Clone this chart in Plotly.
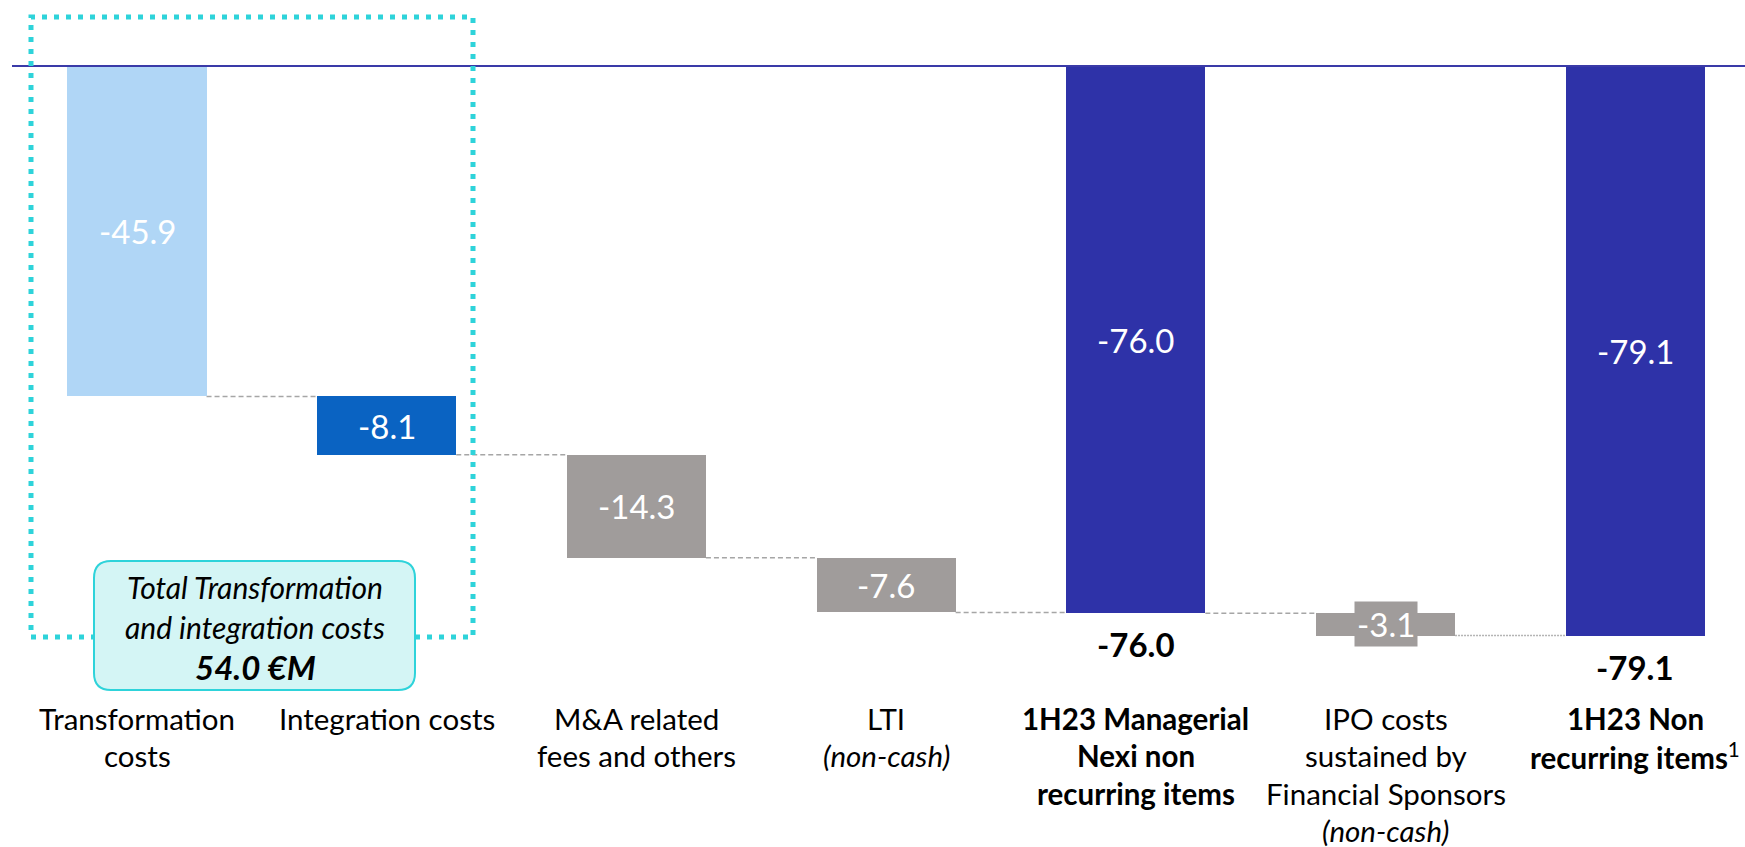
import plotly.graph_objects as go

# ---------------- data ----------------
categories = ["Transformation costs", "Integration costs", "M&A related fees and others",
              "LTI (non-cash)", "1H23 Managerial Nexi non recurring items",
              "IPO costs sustained by Financial Sponsors (non-cash)", "1H23 Non recurring items"]
values = [-45.9, -8.1, -14.3, -7.6, -76.0, -3.1, -79.1]
kinds = ["delta", "delta", "delta", "delta", "total", "delta", "total"]
bar_colors = ["#b0d6f6", "#0a63c2", "#a09c9b", "#a09c9b", "#2e32a8", "#a09c9b", "#2e32a8"]
label_lines = [
    ["Transformation", "costs"],
    ["Integration costs"],
    ["M&amp;A related", "fees and others"],
    ["LTI", "<i>(non-cash)</i>"],
    ["<b>1H23 Managerial</b>", "<b>Nexi non</b>", "<b>recurring items</b>"],
    ["IPO costs", "sustained by", "Financial Sponsors", "<i>(non-cash)</i>"],
    ["<b>1H23 Non</b>", "<b>recurring items</b><sup>1</sup>"],
]
callout_lines = ["<i>Total Transformation</i>", "<i>and integration costs</i>", "<b><i>54.0 €M</i></b>"]

# ---------------- layout geometry ----------------
W, H = 1745, 847
PX_PER_CAT = 249.7
CAT0_PX = 137
ZERO_PY = 66
PX_PER_UNIT = 7.2
X0 = -CAT0_PX / PX_PER_CAT
X1 = X0 + W / PX_PER_CAT
Y1 = ZERO_PY / PX_PER_UNIT
Y0 = Y1 - H / PX_PER_UNIT
BAR_W = 0.557
FONT = "Lato, 'Open Sans', sans-serif"

def px(xp):
    return xp / W

def py(yp):
    return 1 - yp / H

# bases from running total
bases, ends = [], []
running = 0.0
for v, k in zip(values, kinds):
    if k == "total":
        bases.append(0.0)
        running = v
    else:
        bases.append(running)
        running += v
    ends.append(running)

idx = list(range(len(values)))
fig = go.Figure()
fig.add_trace(go.Bar(x=idx, y=values, base=bases, width=BAR_W,
                     marker=dict(color=bar_colors, line=dict(width=0)),
                     hoverinfo="skip"))

# connectors
for i in range(len(values) - 1):
    lvl = ends[i]
    fine = (i == len(values) - 2)
    fig.add_shape(type="line", xref="x", yref="y",
                  x0=i + BAR_W / 2, x1=i + 1 - BAR_W / 2, y0=lvl, y1=lvl,
                  line=dict(color="#b4b4b4" if fine else "#a6a6a6", width=1.5,
                            dash="2px,1px" if fine else "5px,3px"),
                  layer="below")

# baseline
fig.add_shape(type="line", xref="paper", yref="y", x0=px(12), x1=1, y0=0, y1=0,
              line=dict(color="#3a3aa8", width=2))

# dotted bracket rectangle
fig.add_shape(type="rect", xref="paper", yref="paper",
              x0=px(31), x1=px(473), y0=py(637), y1=py(17),
              line=dict(color="#2ed3da", width=5, dash="5px,7px"), layer="above")

# rounded callout
def rrect(x0, y0, x1, y1, r):
    pts = [("M", x0 + r, y0), ("L", x1 - r, y0), ("Q", x1, y0, x1, y0 + r),
           ("L", x1, y1 - r), ("Q", x1, y1, x1 - r, y1), ("L", x0 + r, y1),
           ("Q", x0, y1, x0, y1 - r), ("L", x0, y0 + r), ("Q", x0, y0, x0 + r, y0)]
    s = ""
    for p in pts:
        cmd = p[0]
        coords = p[1:]
        pairs = [f"{px(coords[j]):.5f},{py(coords[j+1]):.5f}" for j in range(0, len(coords), 2)]
        s += cmd + " " + " ".join(pairs) + " "
    return s + "Z"

fig.add_shape(type="path", xref="paper", yref="paper", path=rrect(94, 561, 415, 690, 17),
              fillcolor="#d4f5f5", line=dict(color="#2ed3da", width=2), layer="above")
callout_sizes = [30, 30, 33]
for j, t in enumerate(callout_lines):
    fig.add_annotation(xref="paper", yref="paper", x=px(255), y=py(587 + 40 * j),
                       text=t, showarrow=False, xanchor="center", yanchor="middle",
                       font=dict(family=FONT, size=callout_sizes[j], color="#000000"))

# value labels inside bars
for i, (v, b) in enumerate(zip(values, bases)):
    mid = b + v / 2
    small = abs(v) * PX_PER_UNIT < 40
    fig.add_annotation(x=i, y=mid, xref="x", yref="y", text=f"{v:.1f}", showarrow=False,
                       font=dict(family=FONT, size=33, color="#ffffff"),
                       bgcolor="#a09c9b" if small else "rgba(0,0,0,0)", borderpad=2,
                       xanchor="center", yanchor="middle")

# bold totals below total bars
for i, (v, k) in enumerate(zip(values, kinds)):
    if k == "total":
        fig.add_annotation(x=i, y=v, xref="x", yref="y", text=f"<b>{v:.1f}</b>",
                           showarrow=False, yshift=-31, yanchor="middle",
                           font=dict(family=FONT, size=33, color="#000000"))

# category labels
for i, lines in enumerate(label_lines):
    for j, t in enumerate(lines):
        fig.add_annotation(x=i, xref="x", yref="paper", y=py(718 + 37.5 * j), text=t,
                           showarrow=False, xanchor="center", yanchor="middle",
                           font=dict(family=FONT, size=29.5, color="#000000"))

fig.update_layout(
    width=W, height=H, margin=dict(l=0, r=0, t=0, b=0),
    paper_bgcolor="#ffffff", plot_bgcolor="#ffffff",
    showlegend=False, hovermode=False, bargap=0,
    xaxis=dict(range=[X0, X1], visible=False, fixedrange=True),
    yaxis=dict(range=[Y0, Y1], visible=False, fixedrange=True),
)
fig.write_html("out.html")
